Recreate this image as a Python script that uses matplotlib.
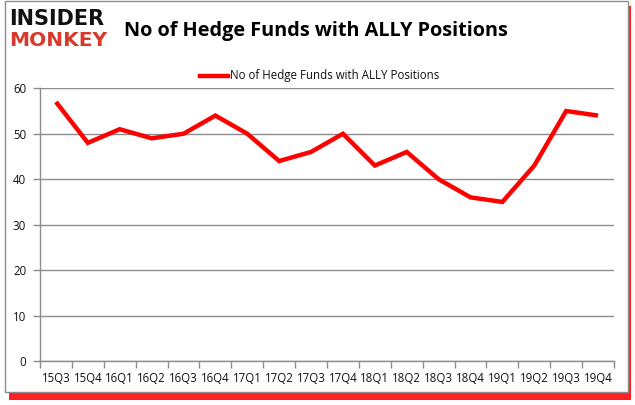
import matplotlib
matplotlib.use("Agg")
import matplotlib.pyplot as plt
from matplotlib.patches import Rectangle

quarters = ["15Q3", "15Q4", "16Q1", "16Q2", "16Q3", "16Q4", "17Q1", "17Q2", "17Q3",
            "17Q4", "18Q1", "18Q2", "18Q3", "18Q4", "19Q1", "19Q2", "19Q3", "19Q4"]
funds = [57, 48, 51, 49, 50, 54, 50, 44, 46, 50, 43, 46, 40, 36, 35, 43, 55, 54]
yticks = [0, 10, 20, 30, 40, 50, 60]
series_name = "No of Hedge Funds with ALLY Positions"
title = "No of Hedge Funds with ALLY Positions"

W, H = 635, 405
fig = plt.figure(figsize=(W / 100, H / 100), dpi=100)
fig.patch.set_facecolor("white")

# outer frame with red shadow
shadow = Rectangle((9 / W, 1 - 400 / H), 622 / W, 394 / H, transform=fig.transFigure,
                   facecolor="#ff2020", edgecolor="none", zorder=0)
fig.patches.append(shadow)
frame = Rectangle((5 / W, 1 - 392 / H), 623 / W, 391 / H, transform=fig.transFigure,
                  facecolor="white", edgecolor="#8c8c8c", linewidth=1.0, zorder=1)
fig.patches.append(frame)

left, right = 40 / W, 614 / W
bottom, top = 1 - 361 / H, 1 - 88.3 / H
ax = fig.add_axes([left, bottom, right - left, top - bottom])
ax.set_zorder(2)
ax.patch.set_alpha(0)

x = list(range(len(quarters)))
ax.plot(x, funds, color="#ff0000", linewidth=3.2, solid_joinstyle="miter",
        solid_capstyle="butt", label=series_name, zorder=3)

ax.set_xlim(-0.5, len(quarters) - 0.5)
ax.set_ylim(0, 60)
ax.set_yticks(yticks)
ax.set_yticklabels([str(v) for v in yticks])
ax.yaxis.grid(True, color="#8c8c8c", linewidth=1.0)
ax.set_axisbelow(True)

ax.set_xticks(x)
ax.set_xticklabels(quarters)
ax.set_xticks([i - 0.5 for i in range(len(quarters) + 1)], minor=True)
ax.tick_params(axis="x", which="major", length=0, pad=8, labelsize=8.3, labelcolor="#111111")
ax.tick_params(axis="x", which="minor", length=5, color="#8c8c8c", width=1)
ax.tick_params(axis="y", length=5, color="#8c8c8c", width=1, labelsize=8.3,
               labelcolor="#111111", pad=5)
for s in ["top", "right"]:
    ax.spines[s].set_visible(False)
for s in ["left", "bottom"]:
    ax.spines[s].set_color("#8c8c8c")
    ax.spines[s].set_linewidth(1.0)

for lab in ax.get_xticklabels() + ax.get_yticklabels():
    lab.set_family(["Open Sans", "DejaVu Sans"])

# title
fig.text(124 / W, 1 - 31 / H, title, ha="left", va="center",
         fontsize=14.3, fontweight="bold", family=["Open Sans", "DejaVu Sans"],
         color="black", zorder=5)

# legend
fig.lines.append(plt.Line2D([200 / W, 228 / W], [1 - 76 / H, 1 - 76 / H],
                            transform=fig.transFigure, color="#ff0000", linewidth=3.2, zorder=5))
fig.text(230 / W, 1 - 76 / H, series_name, ha="left", va="center", fontsize=8.3,
         family=["Open Sans", "DejaVu Sans"], color="#111111", zorder=5)

# logo
fig.text(9 / W, 1 - 19 / H, "INSIDER", ha="left", va="center", fontsize=15,
         fontweight="black", family=["DejaVu Sans"], color="#111111", zorder=5)
fig.text(9 / W, 1 - 40 / H, "MONKEY", ha="left", va="center", fontsize=14.5,
         fontweight="black", family=["DejaVu Sans"], color="#d8392b", zorder=5)

fig.savefig("out.png", dpi=100, facecolor="white")
